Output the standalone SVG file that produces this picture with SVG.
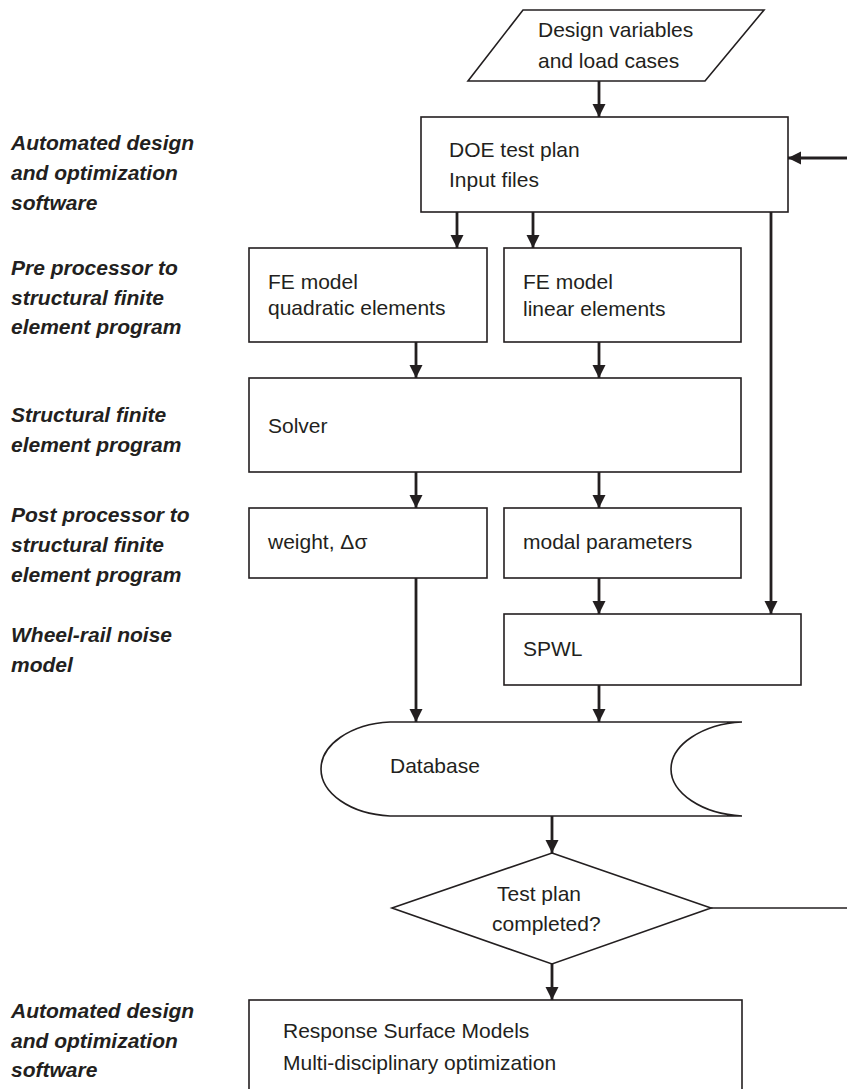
<svg xmlns="http://www.w3.org/2000/svg" width="847" height="1089" viewBox="0 0 847 1089">
<style>
.box{fill:#fff;stroke:#231f20;stroke-width:1.6}
.t{font-family:"Liberation Sans",Arial,sans-serif;font-size:21px;fill:#231f20}
.lbl{font-family:"Liberation Sans",Arial,sans-serif;font-size:21px;font-weight:bold;font-style:italic;fill:#231f20}
.c{stroke:#231f20;stroke-width:2.8;fill:none}
.thin{stroke:#231f20;stroke-width:1.6;fill:none}
</style>
<defs>
<marker id="ah" markerUnits="userSpaceOnUse" markerWidth="14" markerHeight="14" refX="13" refY="6.5" orient="auto">
<path d="M0,0 L13,6.5 L0,13 z" fill="#231f20"/>
</marker>
</defs>
<rect width="847" height="1089" fill="#fff"/>

<g id="labels">
<text class="lbl" x="11" y="150">Automated design</text>
<text class="lbl" x="11" y="180">and optimization</text>
<text class="lbl" x="11" y="210">software</text>
<text class="lbl" x="11" y="275">Pre processor to</text>
<text class="lbl" x="11" y="305">structural finite</text>
<text class="lbl" x="11" y="334">element program</text>
<text class="lbl" x="11" y="422">Structural finite</text>
<text class="lbl" x="11" y="452">element program</text>
<text class="lbl" x="11" y="522">Post processor to</text>
<text class="lbl" x="11" y="552">structural finite</text>
<text class="lbl" x="11" y="582">element program</text>
<text class="lbl" x="11" y="642">Wheel-rail noise</text>
<text class="lbl" x="11" y="672">model</text>
<text class="lbl" x="11" y="1018">Automated design</text>
<text class="lbl" x="11" y="1048">and optimization</text>
<text class="lbl" x="11" y="1077">software</text>
</g>

<g id="connectors">
<line class="c" x1="599" y1="81" x2="599" y2="117" marker-end="url(#ah)"/>
<line class="c" x1="457" y1="212" x2="457" y2="248" marker-end="url(#ah)"/>
<line class="c" x1="533" y1="212" x2="533" y2="248" marker-end="url(#ah)"/>
<line class="c" x1="771" y1="212" x2="771" y2="614" marker-end="url(#ah)"/>
<line class="c" x1="416" y1="342" x2="416" y2="378" marker-end="url(#ah)"/>
<line class="c" x1="599" y1="342" x2="599" y2="378" marker-end="url(#ah)"/>
<line class="c" x1="416" y1="472" x2="416" y2="508" marker-end="url(#ah)"/>
<line class="c" x1="599" y1="472" x2="599" y2="508" marker-end="url(#ah)"/>
<line class="c" x1="599" y1="578" x2="599" y2="614" marker-end="url(#ah)"/>
<line class="c" x1="416" y1="578" x2="416" y2="722" marker-end="url(#ah)"/>
<line class="c" x1="599" y1="685" x2="599" y2="722" marker-end="url(#ah)"/>
<line class="c" x1="552" y1="816" x2="552" y2="853" marker-end="url(#ah)"/>
<line class="c" x1="552" y1="964" x2="552" y2="1000" marker-end="url(#ah)"/>
<line class="thin" x1="711" y1="908" x2="847" y2="908"/>
<line class="c" x1="847" y1="158" x2="788" y2="158" marker-end="url(#ah)"/>
</g>

<g id="input">
<polygon class="box" points="523,10 764,10 705,81 468,81"/>
<text class="t" x="538" y="37">Design variables</text>
<text class="t" x="538" y="68">and load cases</text>
</g>

<g id="doe">
<rect class="box" x="421" y="117" width="367" height="95"/>
<text class="t" x="449" y="157">DOE test plan</text>
<text class="t" x="449" y="187">Input files</text>
</g>

<g id="fe-quadratic">
<rect class="box" x="249" y="248" width="238" height="94"/>
<text class="t" x="268" y="289">FE model</text>
<text class="t" x="268" y="315">quadratic elements</text>
</g>

<g id="fe-linear">
<rect class="box" x="504" y="248" width="237" height="94"/>
<text class="t" x="523" y="289">FE model</text>
<text class="t" x="523" y="316">linear elements</text>
</g>

<g id="solver">
<rect class="box" x="249" y="378" width="492" height="94"/>
<text class="t" x="268" y="433">Solver</text>
</g>

<g id="weight">
<rect class="box" x="249" y="508" width="238" height="70"/>
<text class="t" x="268" y="549">weight, Δσ</text>
</g>

<g id="modal">
<rect class="box" x="504" y="508" width="237" height="70"/>
<text class="t" x="523" y="549">modal parameters</text>
</g>

<g id="spwl">
<rect class="box" x="504" y="614" width="297" height="71"/>
<text class="t" x="523" y="656">SPWL</text>
</g>

<g id="database">
<path class="box" d="M742,722 L390,722 C350,724 321,745 321,769 C321,793 350,814 390,816 L742,816 C702,814 671,793 671,769 C671,745 702,724 742,722 Z"/>
<text class="t" x="390" y="773">Database</text>
</g>

<g id="decision">
<polygon class="box" points="552,853 711,908 552,964 392,908"/>
<text class="t" x="497" y="901">Test plan</text>
<text class="t" x="492" y="931">completed?</text>
</g>

<g id="rsm">
<rect class="box" x="249" y="1000" width="493" height="100"/>
<text class="t" x="283" y="1038">Response Surface Models</text>
<text class="t" x="283" y="1070">Multi-disciplinary optimization</text>
</g>
</svg>
